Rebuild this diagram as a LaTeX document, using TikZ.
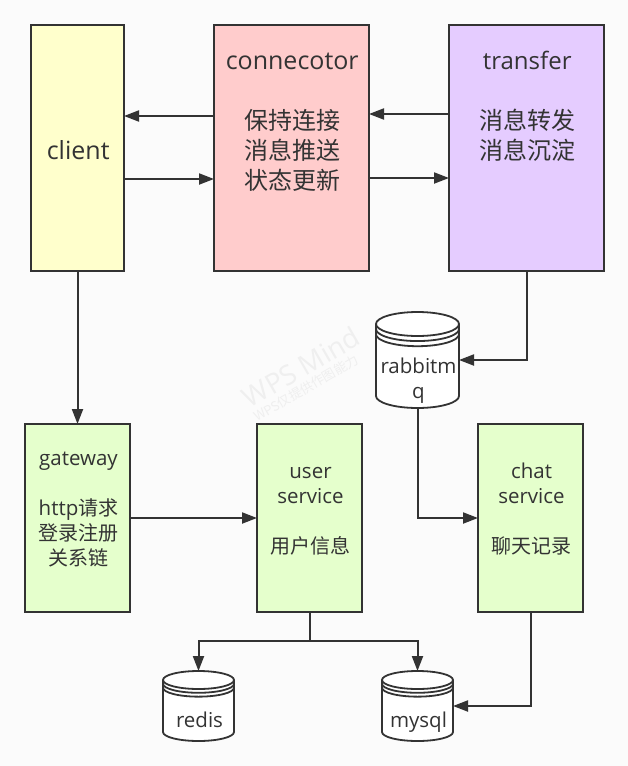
\documentclass[tikz,border=0pt]{standalone}
\usepackage{fontspec}
\setmainfont{Open Sans}
\newfontfamily\zh{Noto Sans CJK SC}
\usetikzlibrary{arrows.meta}
\definecolor{ink}{HTML}{333333}
\definecolor{paper}{HTML}{FBFBFB}
\definecolor{yellowbox}{HTML}{FFFFCC}
\definecolor{pinkbox}{HTML}{FFCCCC}
\definecolor{purplebox}{HTML}{E5CCFF}
\definecolor{greenbox}{HTML}{E5FFCC}
\definecolor{wmgray}{HTML}{EFEFEF}
\newcommand{\zhbig}[1]{{\zh\fontsize{24}{30}\selectfont #1}}
\newcommand{\zhmid}[1]{{\zh\fontsize{20}{25}\selectfont #1}}
\tikzset{
  x=1pt,y=-1pt,
  boxshape/.style={draw=ink,line width=2pt,inner sep=0pt,outer sep=0pt,anchor=north west},
  bigtext/.style={text=ink,align=center,inner sep=0pt,xshift=0.7pt,font=\fontsize{25}{30}\selectfont,execute at begin node=\strut},
  midtext/.style={text=ink,align=center,inner sep=0pt,xshift=1pt,font=\fontsize{20.5}{25}\selectfont,execute at begin node=\strut},
  link/.style={draw=ink,line width=2pt,-{Triangle[length=15pt,width=11pt]}},
  branch/.style={draw=ink,line width=2pt},
  dbnode/.style={inner sep=0pt,outer sep=0pt,minimum width=#1,anchor=north west},
  wm/.style={text=wmgray,rotate=30,inner sep=0pt}
}
% #1 name, #2 left, #3 top, #4 width, #5 height, #6 top-ellipse radius
\newcommand{\dbcyl}[6]{%
  \filldraw[draw=ink,fill=white,line width=1.8pt]
    (#2,#3+#6) arc[start angle=180,end angle=0,x radius=#4/2,y radius=-#6]
    -- (#2+#4,#3+#5-#6) arc[start angle=0,end angle=-180,x radius=#4/2,y radius=-#6]
    -- cycle;
  \foreach \dd in {0,0.42,0.85}{
    \draw[ink,line width=1.8pt] (#2,#3+#6+\dd*#6) arc[start angle=180,end angle=360,x radius=#4/2,y radius=-#6];
  }
  \node[dbnode=#4,minimum height=#5] (#1) at (#2,#3) {};
}
\begin{document}
\begin{tikzpicture}
\useasboundingbox (0,0) rectangle (628,766);
\fill[paper] (0,0) rectangle (628,766);

% watermark
\node[wm,font=\fontsize{27.5}{27.5}\selectfont] (wma) at (301,367) {WPS Mind};
\node[wm,font=\zh\fontsize{13}{13}\selectfont] (wmb) at (306,388) {WPS仅提供作图能力};

% boxes
\node[boxshape,fill=yellowbox,minimum width=93pt,minimum height=246pt] (client) at (31,25) {};
\node[boxshape,fill=pinkbox,minimum width=155pt,minimum height=246pt] (conn) at (214,25) {};
\node[boxshape,fill=purplebox,minimum width=155pt,minimum height=246pt] (transfer) at (449,25) {};
\node[boxshape,fill=greenbox,minimum width=105pt,minimum height=188pt] (gateway) at (25,424) {};
\node[boxshape,fill=greenbox,minimum width=105pt,minimum height=188pt] (user) at (257,424) {};
\node[boxshape,fill=greenbox,minimum width=105pt,minimum height=188pt] (chat) at (478,424) {};

% cylinders
\dbcyl{rabbit}{376}{312}{83}{96}{12}
\dbcyl{redis}{163}{671}{71}{70}{9}
\dbcyl{mysql}{382}{671}{71}{70}{9}

% texts
\node[bigtext] (clienttxt) at (client.north |- 0,153) {client};
\node[bigtext,anchor=north] (conntxt) at (conn.north |- 0,52.5) {connecotor\\~\\\zhbig{保持连接}\\\zhbig{消息推送}\\\zhbig{状态更新}};
\node[bigtext,anchor=north] (transfertxt) at (transfer.north |- 0,50.5) {{\fontsize{24}{30}\selectfont transfer}\\~\\\zhbig{消息转发}\\\zhbig{消息沉淀}};
\node[midtext,anchor=north] (gatewaytxt) at (gateway.north |- 0,452) {gateway\\~\\http\zhmid{请求}\\\zhmid{登录注册}\\\zhmid{关系链}};
\node[midtext,anchor=north] (usertxt) at (user.north |- 0,467.5) {user\\service\\~\\\zhmid{用户信息}};
\node[midtext,anchor=north] (chattxt) at (chat.north |- 0,462.5) {chat\\service\\~\\\zhmid{聊天记录}};
\node[midtext,anchor=north] (rabbittxt) at (rabbit.north |- 0,357.5) {rabbitm\\q};
\node[midtext,anchor=north] (redistxt) at (redis.north |- 0,709.5) {redis};
\node[midtext,anchor=north] (mysqltxt) at (mysql.north |- 0,709.5) {mysql};

% connectors
\draw[link] (conn.west |- 0,116) -- (client.east |- 0,116);
\draw[link] (client.east |- 0,179) -- (conn.west |- 0,179);
\draw[link] (transfer.west |- 0,114) -- (conn.east |- 0,114);
\draw[link] (conn.east |- 0,178) -- (transfer.west |- 0,178);
\draw[link] (client.south) -- (client.south |- gateway.north);
\draw[link] (gateway.east |- 0,518) -- (user.west |- 0,518);
\draw[link] (transfer.south) |- (rabbit.east);
\draw[link] (rabbit.south) |- (chat.west |- 0,518);
\draw[branch] (user.south) -- (user.south |- 0,641) coordinate (fork);
\draw[link] (fork) -| (redis.north);
\draw[link] (fork) -| (mysql.north);
\draw[link] (chat.south) |- (mysql.east);
\end{tikzpicture}
\end{document}
